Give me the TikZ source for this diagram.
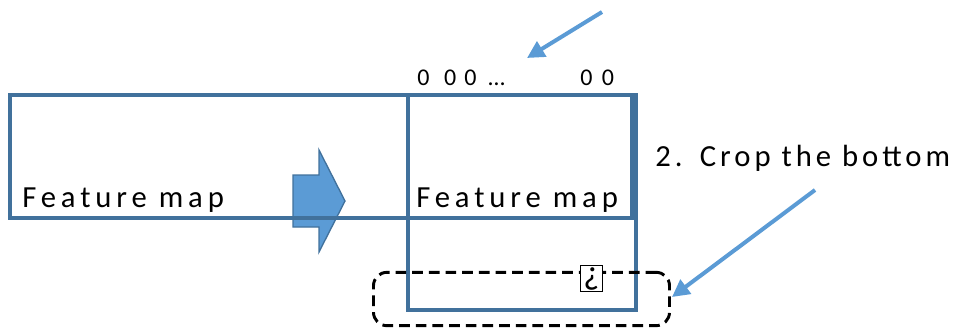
\documentclass[tikz,border=0pt]{standalone}
\usepackage{fontspec}
\setmainfont[LetterSpace=16]{Carlito}
\usetikzlibrary{arrows.meta,positioning}
\definecolor{mapline}{RGB}{65,113,156}
\definecolor{callout}{RGB}{91,155,213}

\begin{document}
\begin{tikzpicture}[
    x=0.75pt, y=-0.75pt,
    mapbox/.style={draw=mapline, line width=3pt},
    lbl/.style={font=\fontsize{23}{25}\selectfont, inner sep=0pt, anchor=base west},
    zeros/.style={font=\fontsize{18}{20}\selectfont, inner sep=0pt, anchor=base west},
    pointer/.style={draw=callout, line width=3pt, -{Triangle[length=13pt, width=13pt]}},
    cropbox/.style={draw=black, line width=2.2pt, dash pattern=on 8pt off 4.5pt, rounded corners=10pt},
]
\useasboundingbox (0,0) rectangle (960,329);

% block arrow between the two maps
\draw[mapline, line width=1pt, fill=callout]
  (293,175) -- (319,175) -- (319,150) -- (345,201) -- (319,252) -- (319,227) -- (293,227) -- cycle;

% feature maps
\draw[mapbox] (10,95) rectangle (632,218);
\draw[mapbox] (408,95) rectangle (636,310);

\node[lbl] (map1) at (22,207) {Feature map};
\node[lbl] (map2) at (416,207) {Feature map};

% padded zeros on top
\node[zeros] (zlead) at (417,85) {0\hspace{11pt}0\hspace{6pt}0\hspace{9pt}…};
\node[zeros] (ztail) at (580,85) {0\hspace{7pt}0};

% cropped region
\node[cropbox, minimum width=222pt, minimum height=40pt] (crop) at (521.5,299) {};
\node[draw, line width=0.8pt, fill=white, inner sep=0pt, minimum width=17pt, minimum height=20pt,
      font=\fontsize{26}{26}\selectfont] (glyph) at (591.5,278.5) {\raisebox{-2pt}{¿}};

\node[lbl, font=\fontsize{23}{25}\selectfont\addfontfeature{LetterSpace=13}] (step2) at (655,166) {2.\hspace{13pt}Crop the bottom};

% pointers
\coordinate (p1s) at (602,12);
\coordinate (p1e) at (527,58);
\coordinate (p2s) at (815,190);
\coordinate (p2e) at (672,297);
\draw[pointer] (p1s) -- (p1e);
\draw[pointer] (p2s) -- (p2e);
\end{tikzpicture}
\end{document}
